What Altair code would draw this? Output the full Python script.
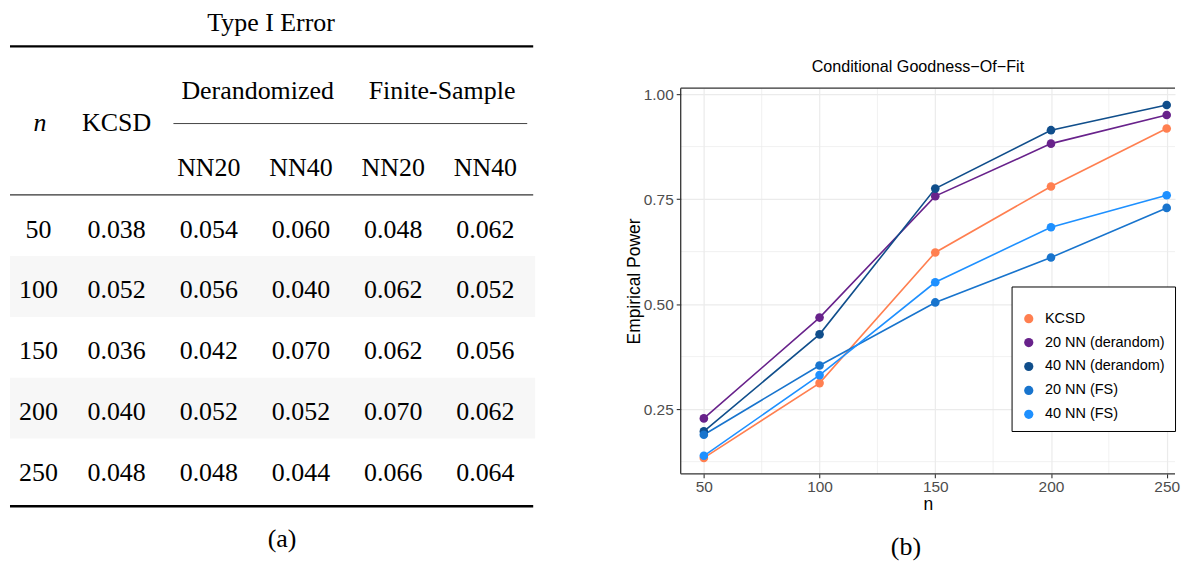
import altair as alt
import pandas as pd

# ---------------- (a) Type I error table ----------------
n_values = [50, 100, 150, 200, 250]
kcsd_err = [0.038, 0.052, 0.036, 0.040, 0.048]
der_nn20_err = [0.054, 0.056, 0.042, 0.052, 0.048]
der_nn40_err = [0.060, 0.040, 0.070, 0.052, 0.044]
fs_nn20_err = [0.048, 0.062, 0.062, 0.070, 0.066]
fs_nn40_err = [0.062, 0.052, 0.056, 0.062, 0.064]
col_keys = ["KCSD", "D20", "D40", "F20", "F40"]
sub_labels = ["NN20", "NN40", "NN20", "NN40"]
group_labels = ["Derandomized", "Finite-Sample"]
group_keys = ["D20", "F20"]

# ---------------- (b) empirical power ----------------
power_n = [50, 100, 150, 200, 250]
kcsd_power = [0.134, 0.312, 0.623, 0.780, 0.918]
nn20_der_power = [0.228, 0.468, 0.757, 0.882, 0.950]
nn40_der_power = [0.197, 0.428, 0.775, 0.914, 0.974]
nn20_fs_power = [0.189, 0.354, 0.504, 0.611, 0.729]
nn40_fs_power = [0.139, 0.331, 0.552, 0.683, 0.759]
methods = ["KCSD", "20 NN (derandom)", "40 NN (derandom)", "20 NN (FS)", "40 NN (FS)"]
method_colors = ["#FF7F50", "#68228B", "#104E8B", "#1874CD", "#1E90FF"]
x_major = [50, 100, 150, 200, 250]
x_minor = [75, 125, 175, 225]
y_major = [0.25, 0.50, 0.75, 1.00]
y_minor = [0.125, 0.375, 0.625, 0.875]

SERIF = "Liberation Serif"
SANS = "Liberation Sans"
TFS = 26

# ---------- table data frames ----------
err_cols = [kcsd_err, der_nn20_err, der_nn40_err, fs_nn20_err, fs_nn40_err]
cell_rows = []
for i, n in enumerate(n_values):
    for key, arr in zip(col_keys, err_cols):
        cell_rows.append({"row": str(n), "col": key, "text": f"{arr[i]:.3f}"})
cells = pd.DataFrame(cell_rows)
ncol = pd.DataFrame({"row": [str(n) for n in n_values], "text": [str(n) for n in n_values]})
stripes_df = pd.DataFrame({"row": [str(n) for i, n in enumerate(n_values) if i % 2 == 1]})

xs = alt.Scale(type="point", domain=col_keys, range=[107, 477], padding=0)
ys = alt.Scale(type="band", domain=[str(n) for n in n_values], range=[186, 491],
               paddingInner=0, paddingOuter=0)

TW, TH = 527, 544
SPACING = 146

stripes = alt.Chart(stripes_df).mark_rect(color="#F7F7F7").encode(
    y=alt.Y("row:N", scale=ys, axis=None), x=alt.value(0), x2=alt.value(TW)
)
cell_text = alt.Chart(cells).mark_text(font=SERIF, fontSize=TFS, color="black", dy=4).encode(
    x=alt.X("col:N", scale=xs, axis=None),
    y=alt.Y("row:N", scale=ys, axis=None),
    text="text:N",
)
n_text = alt.Chart(ncol).mark_text(font=SERIF, fontSize=TFS, color="black", dy=4).encode(
    x=alt.value(28.5), y=alt.Y("row:N", scale=ys, axis=None), text="text:N"
)
hdr_kcsd = alt.Chart(pd.DataFrame({"col": ["KCSD"], "label": ["KCSD"]})).mark_text(
    font=SERIF, fontSize=TFS, color="black").encode(
    x=alt.X("col:N", scale=xs, axis=None), y=alt.value(113), text="label:N")
hdr_n = alt.Chart(pd.DataFrame({"label": ["n"]})).mark_text(
    font=SERIF, fontSize=TFS, fontStyle="italic", color="black").encode(
    x=alt.value(30), y=alt.value(113), text="label:N")
hdr_groups = alt.Chart(pd.DataFrame({"col": group_keys, "label": group_labels})).mark_text(
    font=SERIF, fontSize=TFS, color="black", dx=49).encode(
    x=alt.X("col:N", scale=xs, axis=None), y=alt.value(81), text="label:N")
hdr_sub = alt.Chart(pd.DataFrame({"col": col_keys[1:], "label": sub_labels})).mark_text(
    font=SERIF, fontSize=TFS, color="black").encode(
    x=alt.X("col:N", scale=xs, axis=None), y=alt.value(159), text="label:N")
tbl_title = alt.Chart(pd.DataFrame({"label": ["Type I Error"]})).mark_text(
    font=SERIF, fontSize=TFS, color="black").encode(
    x=alt.value(262), y=alt.value(13), text="label:N")
cap_a = alt.Chart(pd.DataFrame({"label": ["(a)"]})).mark_text(
    font=SERIF, fontSize=TFS, color="black").encode(
    x=alt.value(273), y=alt.value(531), text="label:N")

one = pd.DataFrame({"k": [0]})
rule_top = alt.Chart(one).mark_rule(color="black", strokeWidth=2.2).encode(
    x=alt.value(0), x2=alt.value(525), y=alt.value(36.5))
rule_cmid = alt.Chart(one).mark_rule(color="#444444", strokeWidth=1).encode(
    x=alt.value(164), x2=alt.value(519), y=alt.value(114))
rule_head = alt.Chart(one).mark_rule(color="#333333", strokeWidth=1.2).encode(
    x=alt.value(0), x2=alt.value(525), y=alt.value(185.5))
rule_bot = alt.Chart(one).mark_rule(color="black", strokeWidth=2.6).encode(
    x=alt.value(0), x2=alt.value(525), y=alt.value(498))

table = alt.layer(
    stripes, rule_top, rule_cmid, rule_head, rule_bot,
    tbl_title, hdr_n, hdr_kcsd, hdr_groups, hdr_sub, n_text, cell_text, cap_a
).properties(width=TW, height=TH, view=alt.ViewBackground(stroke="transparent"))

# ---------- line chart ----------
series = [kcsd_power, nn20_der_power, nn40_der_power, nn20_fs_power, nn40_fs_power]
recs = []
for m, vals in zip(methods, series):
    for n, v in zip(power_n, vals):
        recs.append({"n": n, "power": v, "method": m})
pdf = pd.DataFrame(recs)

PW, PH = 496, 387
xscale = alt.Scale(domain=[40, 253.6], nice=False, zero=False)
yscale = alt.Scale(domain=[0.096, 1.014], nice=False, zero=False)

x_axis = alt.Axis(values=x_major, title="n", grid=True, gridColor="#EBEBEB", gridWidth=1.2,
                  domain=False, tickColor="#333333", tickSize=4, tickWidth=1.1,
                  labelColor="#4D4D4D", labelFont=SANS, labelFontSize=15.5, labelPadding=2,
                  titleFont=SANS, titleFontSize=17.5, titleFontWeight="normal",
                  titleColor="black", titlePadding=0)
y_axis = alt.Axis(values=y_major, format=".2f", title="Empirical Power", grid=True,
                  gridColor="#EBEBEB", gridWidth=1.2, domain=False, tickColor="#333333",
                  tickSize=4.5, tickWidth=1.1, labelColor="#4D4D4D", labelFont=SANS,
                  labelFontSize=15.5, labelPadding=3, titleFont=SANS, titleFontSize=17.5,
                  titleFontWeight="normal", titleColor="black", titlePadding=0)

X = alt.X("n:Q", scale=xscale, axis=x_axis)
Y = alt.Y("power:Q", scale=yscale, axis=y_axis)

minor_x = alt.Chart(pd.DataFrame({"n": x_minor})).mark_rule(
    color="#EBEBEB", strokeWidth=0.7).encode(x=X)
minor_y = alt.Chart(pd.DataFrame({"power": y_minor})).mark_rule(
    color="#EBEBEB", strokeWidth=0.7).encode(y=Y)

border_l = alt.Chart(one).mark_rule(color="#333333", strokeWidth=1.3).encode(
    x=alt.value(0), y=alt.value(0), y2=alt.value(PH))
border_t = alt.Chart(one).mark_rule(color="#333333", strokeWidth=1.3).encode(
    x=alt.value(0), x2=alt.value(PW), y=alt.value(0))
border_b = alt.Chart(one).mark_rule(color="#333333", strokeWidth=1.3).encode(
    x=alt.value(0), x2=alt.value(PW), y=alt.value(PH))

# legend (orient none) is placed relative to the whole concatenated figure
cscale = alt.Scale(domain=methods, range=method_colors)
legend = alt.Legend(title=" ", orient="none", legendX=1005, legendY=277.5, padding=10,
                    strokeColor="black", fillColor="white", labelFont=SANS,
                    labelFontSize=14.5, labelColor="black", symbolType="circle",
                    symbolSize=85, symbolStrokeWidth=0, rowPadding=9, labelOffset=9,
                    titleFontSize=12, titlePadding=3)

lines = alt.Chart(pdf).mark_line(strokeWidth=1.6).encode(
    x=X, y=Y, color=alt.Color("method:N", scale=cscale, legend=legend), order="n:Q")
points = alt.Chart(pdf).mark_circle(size=75, opacity=1).encode(
    x=X, y=Y, color=alt.Color("method:N", scale=cscale, legend=legend))
cap_b = alt.Chart(pd.DataFrame({"label": ["(b)"]})).mark_text(
    font=SERIF, fontSize=TFS, color="black").encode(
    x=alt.value(226), y=alt.value(460), text="label:N")

line_chart = alt.layer(minor_x, minor_y, border_l, border_t, border_b,
                       lines, points, cap_b).properties(
    width=PW, height=PH,
    title=alt.TitleParams("Conditional Goodness\u2212Of\u2212Fit", font=SANS, fontSize=16.2,
                          fontWeight="normal", color="black", anchor="middle",
                          baseline="bottom", offset=11, dx=-10, dy=15),
    view=alt.ViewBackground(stroke="transparent"),
)

chart = alt.hconcat(table, line_chart, spacing=SPACING, bounds="flush", center=True).properties(
    padding=0
)

chart.save("out.html", embed_options={"renderer": "svg", "actions": False})
